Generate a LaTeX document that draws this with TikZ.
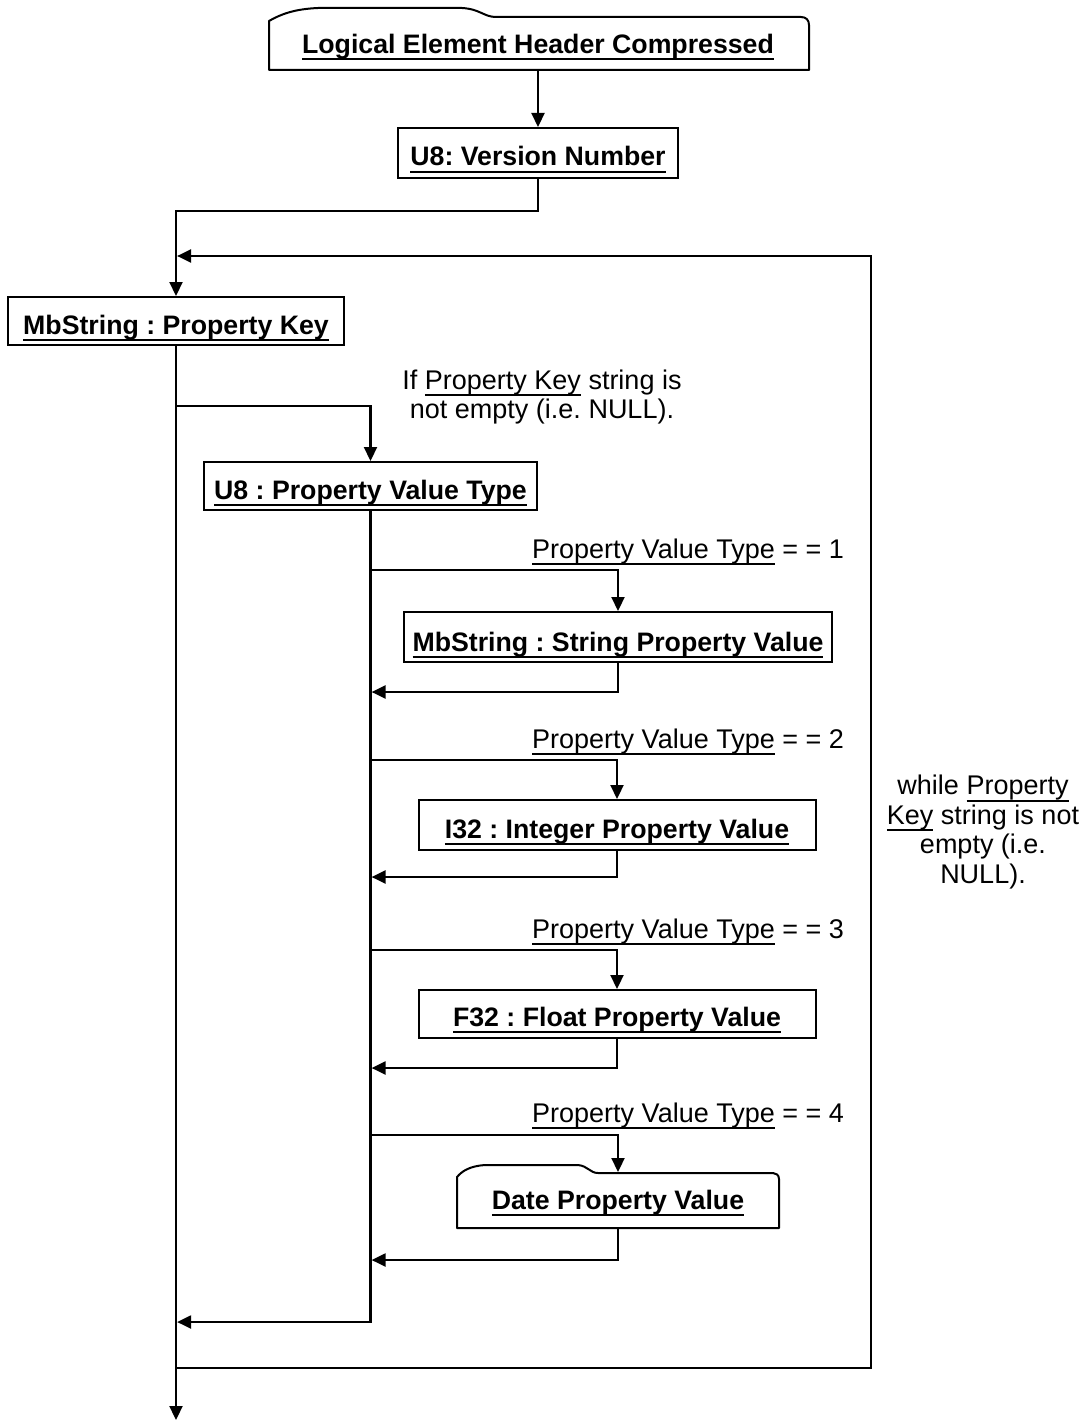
\documentclass[tikz,border=0pt]{standalone}
\usepackage{fontspec}
\setmainfont{Liberation Sans}
\usetikzlibrary{arrows.meta}
\frenchspacing

% underline drawn as a rule just below the baseline
\newcommand\uln[1]{\setbox0\hbox{#1}\leavevmode\rlap{\rule[-6.8pt]{\wd0}{2pt}}\box0\relax}

\begin{document}
\begin{tikzpicture}[x=1pt,y=-1pt,
  every node/.style={inner sep=0pt, font=\fontsize{27}{29.5}\selectfont},
  box/.style={draw, line width=2pt, inner sep=0pt, text height=26pt, text depth=0pt,
    font=\fontsize{26.7}{29.5}\selectfont\bfseries},
  tabbox/.style={box, draw=none},
  outline/.style={line width=2pt, line join=round},
  wire/.style={line width=2.2pt},
  flow/.style={wire, -{Triangle[length=14pt,width=13pt]}},
  note/.style={align=center, inner sep=0pt},
  cond/.style={anchor=base west}
]
\useasboundingbox (0,0) rectangle (1085,1423);

% ---- header (tabbed box) ----
\node[tabbox, text height=20pt, minimum width=540pt, minimum height=53pt] (hdr) at (538,43.5)
  {\uln{Logical Element Header Compressed}};
\draw[outline] (269,70) -- (269,21) .. controls (281,14) and (295,9) .. (318,8)
  -- (462,8) .. controls (480,9) and (484,17) .. (496,17)
  -- (801,17) .. controls (806,17) and (809,20) .. (809,25) -- (809,70) -- cycle;

\node[box, minimum width=280pt, minimum height=50pt] (vers) at (538,153)
  {\uln{U8: Version Number}};

\node[box, minimum width=336pt, minimum height=48pt] (key) at (176,321)
  {\uln{MbString : Property Key}};

\node[box, minimum width=333pt, minimum height=48pt] (type) at (370.5,486)
  {\uln{U8 : Property Value Type}};

\node[box, text height=28pt, minimum width=428pt, minimum height=50pt] (str) at (618,637)
  {\uln{MbString : String Property Value}};
\node[box, minimum width=397pt, minimum height=50pt] (int) at (617,825)
  {\uln{I32 : Integer Property Value}};
\node[box, text height=24pt, minimum width=397pt, minimum height=48pt] (flt) at (617,1014)
  {\uln{F32 : Float Property Value}};

% ---- date value (tabbed box) ----
\node[tabbox, text height=17pt, minimum width=322pt, minimum height=55pt] (date) at (618,1200.5)
  {\uln{Date Property Value}};
\draw[outline] (457,1228) -- (457,1177) .. controls (462,1171) and (470,1166) .. (485,1165)
  -- (578,1165) .. controls (588,1166) and (590,1173) .. (598,1173)
  -- (773,1173) .. controls (776,1173) and (779,1175) .. (779,1179)
  -- (779,1228) -- cycle;

% ---- labels ----
\node[note] (ifkey) at (542,397)
  {If \uln{Property Key} string is\\not empty (i.e. NULL).};
\node[cond] (c1) at (532,558.5) {\uln{Property Value Type} = = 1};
\node[cond] (c2) at (532,748.5) {\uln{Property Value Type} = = 2};
\node[cond] (c3) at (532,938.5) {\uln{Property Value Type} = = 3};
\node[cond] (c4) at (532,1122.5) {\uln{Property Value Type} = = 4};
\node[note] (while) at (983,832)
  {while \uln{Property}\\\uln{Key} string is not\\empty (i.e.\\NULL).};

% ---- helper coordinates ----
\coordinate (loopTR) at (871,256);
\coordinate (loopTL) at (177.1,256);
\coordinate (loopBR) at (871,1368);
\coordinate (loopBL) at (176,1368);
\coordinate (out) at (176,1420);
\coordinate (b0) at (176,406);
\coordinate (r0) at (177.1,1322);
\coordinate (s1) at (370.5,570);
\coordinate (s2) at (370.5,760);
\coordinate (s3) at (370.5,950);
\coordinate (s4) at (370.5,1135);
\coordinate (r1) at (371.6,692);
\coordinate (r2) at (371.6,877);
\coordinate (r3) at (371.6,1068);
\coordinate (r4) at (371.6,1260);

% ---- connectors ----
\draw[flow] (hdr.south) -- (vers.north);
\draw[flow] (vers.south) -- ++(0,32) -| (key.north);
\draw[flow] (loopBL) -- (loopBR) -- (loopTR) -- (loopTL);
\draw[flow] (key.south) -- (out);
\draw[flow] (b0) -| (type.north);
\draw[flow] (type.south) |- (r0);

\draw[flow] (s1) -| (str.north);
\draw[flow] (str.south) |- (r1);
\draw[flow] (s2) -| (int.north);
\draw[flow] (int.south) |- (r2);
\draw[flow] (s3) -| (flt.north);
\draw[flow] (flt.south) |- (r3);
\draw[flow] (s4) -| (date.north);
\draw[flow] (date.south) |- (r4);
\end{tikzpicture}
\end{document}
